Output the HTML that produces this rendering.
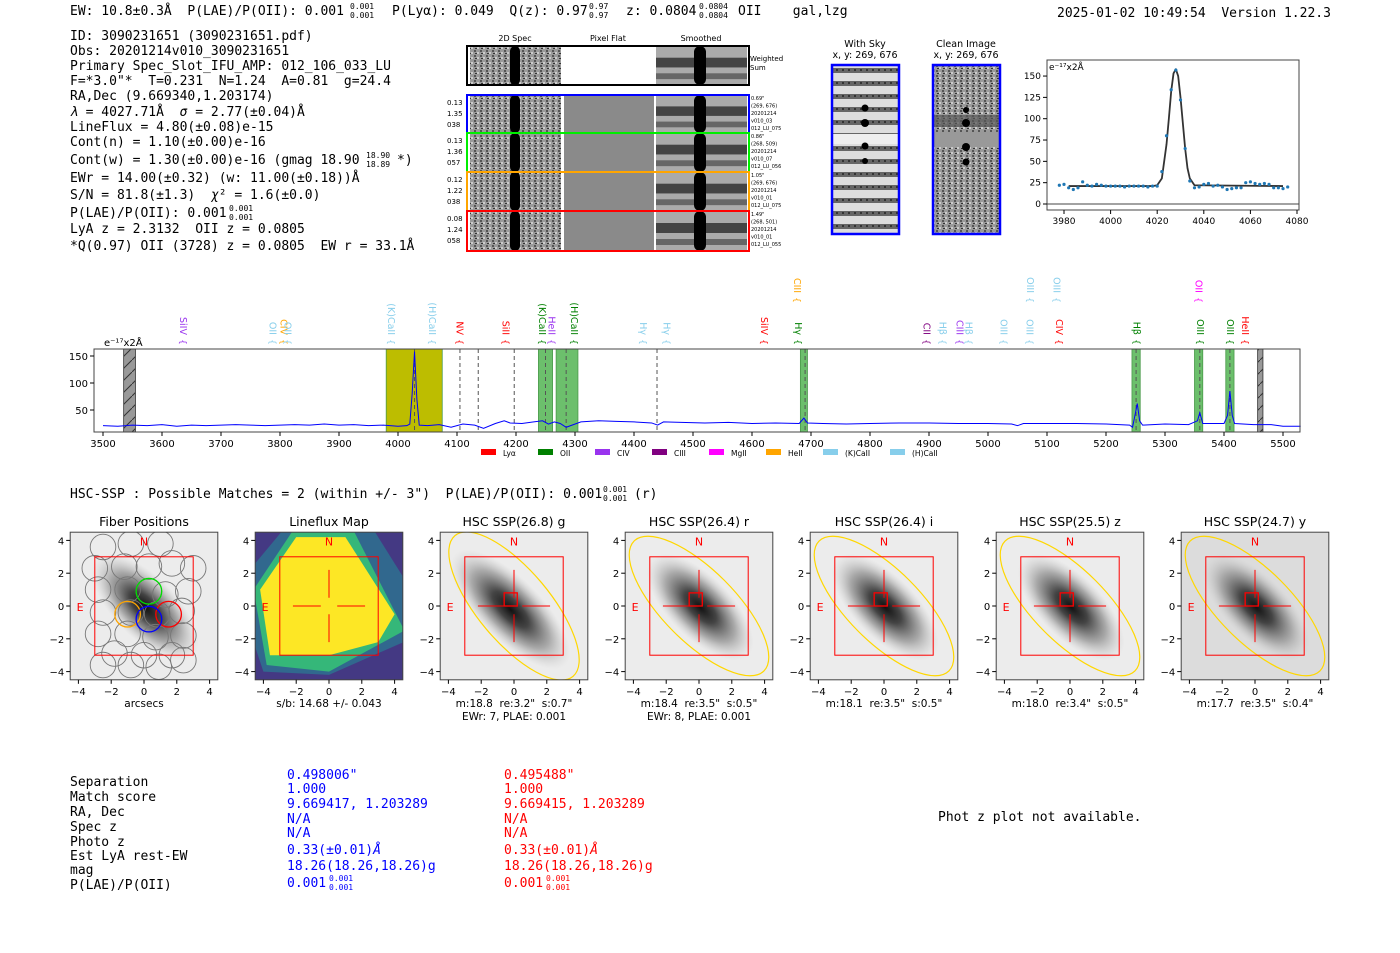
<!DOCTYPE html>
<html><head><meta charset="utf-8">
<style>
html,body{margin:0;padding:0;background:#fff;}
svg{display:block;}
text{white-space:pre;}
.m{font-family:"DejaVu Sans Mono","Liberation Mono",monospace;font-size:13px;fill:#000;}
.s{font-family:"DejaVu Sans","Liberation Sans",sans-serif;}
.t{font-family:"DejaVu Sans","Liberation Sans",sans-serif;fill:#000;}
.sm{font-size:8px !important;}
</style></head>
<body>
<svg id="page" width="1400" height="953" viewBox="0 0 1400 953" xmlns="http://www.w3.org/2000/svg" xml:space="preserve">
<defs>
 <pattern id="noise" width="6" height="5" patternUnits="userSpaceOnUse">
  <rect width="6" height="5" fill="#9a9a9a"/><rect x="0" y="0" width="2" height="2" fill="#555"/><rect x="3" y="2" width="2" height="2" fill="#ccc"/><rect x="1" y="3" width="2" height="1" fill="#333"/>
 </pattern>
 <pattern id="stripe" width="6" height="13" patternUnits="userSpaceOnUse">
  <rect width="6" height="13" fill="#ddd"/><rect y="3" width="6" height="5" fill="#666"/><rect x="2" y="4" width="2" height="2" fill="#333"/>
 </pattern>
 <pattern id="hatch" width="12" height="12" patternUnits="userSpaceOnUse">
  <rect width="12" height="12" fill="#999"/><line x1="0" y1="12" x2="12" y2="0" stroke="#333" stroke-width="1"/>
 </pattern>
 <radialGradient id="gal" cx="0.5" cy="0.5" r="0.5">
  <stop offset="0" stop-color="#111"/><stop offset="0.3" stop-color="#444"/><stop offset="0.65" stop-color="#999" stop-opacity="0.8"/><stop offset="1" stop-color="#ccc" stop-opacity="0"/>
 </radialGradient>
</defs>

<g>
<text class="m" x="70" y="15">EW: 10.8±0.3Å  P(LAE)/P(OII): 0.001</text>
<text class="m sm" x="350" y="9">0.001</text><text class="m sm" x="350" y="18">0.001</text>
<text class="m" x="392" y="15">P(Lyα): 0.049  Q(z): 0.97</text>
<text class="m sm" x="589" y="9">0.97</text><text class="m sm" x="589" y="18">0.97</text>
<text class="m" x="626" y="15">z: 0.0804</text>
<text class="m sm" x="699" y="9">0.0804</text><text class="m sm" x="699" y="18">0.0804</text>
<text class="m" x="738" y="15">OII    gal,lzg</text>
<text class="m" x="1057" y="17">2025-01-02 10:49:54  Version 1.22.3</text>
</g>

<g>
<text class="m" x="70" y="40">ID: 3090231651 (3090231651.pdf)</text>
<text class="m" x="70" y="55">Obs: 20201214v010_3090231651</text>
<text class="m" x="70" y="70">Primary Spec_Slot_IFU_AMP: 012_106_033_LU</text>
<text class="m" x="70" y="85">F=*3.0"*  T=0.231  N=1.24  A=0.81  g=24.4</text>
<text class="m" x="70" y="100">RA,Dec (9.669340,1.203174)</text>
<text class="m" x="70" y="116"><tspan font-style="italic">λ</tspan> = 4027.71Å  <tspan font-style="italic">σ</tspan> = 2.77(±0.04)Å</text>
<text class="m" x="70" y="131">LineFlux = 4.80(±0.08)e-15</text>
<text class="m" x="70" y="146">Cont(n) = 1.10(±0.00)e-16</text>
<text class="m" x="70" y="164">Cont(w) = 1.30(±0.00)e-16 (gmag 18.90</text>
<text class="m sm" x="366" y="158">18.90</text><text class="m sm" x="366" y="167">18.89</text>
<text class="m" x="397" y="164">*)</text>
<text class="m" x="70" y="182">EWr = 14.00(±0.32) (w: 11.00(±0.18))Å</text>
<text class="m" x="70" y="199">S/N = 81.8(±1.3)  <tspan font-style="italic">χ</tspan>² = 1.6(±0.0)</text>
<text class="m" x="70" y="217">P(LAE)/P(OII): 0.001</text>
<text class="m sm" x="229" y="211">0.001</text><text class="m sm" x="229" y="220">0.001</text>
<text class="m" x="70" y="233">LyA z = 2.3132  OII z = 0.0805</text>
<text class="m" x="70" y="250">*Q(0.97) OII (3728) z = 0.0805  EW r = 33.1Å</text>
</g>

<g id="spec2d">
<text class="s" font-size="8" x="515" y="41" text-anchor="middle">2D Spec</text>
<text class="s" font-size="8" x="608" y="41" text-anchor="middle">Pixel Flat</text>
<text class="s" font-size="8" x="701" y="41" text-anchor="middle">Smoothed</text>
</g>

<g>
<text class="s" font-size="9.5" x="865" y="47" text-anchor="middle">With Sky</text>
<text class="s" font-size="9.5" x="865" y="58" text-anchor="middle">x, y: 269, 676</text>
<rect x="832" y="65" width="67" height="169" fill="url(#stripe)"/>
<rect x="832" y="134" width="67" height="10" fill="#eee"/>
<circle cx="865" cy="108" r="3.5" fill="#000"/><circle cx="865" cy="123" r="4" fill="#000"/><circle cx="865" cy="146" r="3.5" fill="#000"/><circle cx="865" cy="161" r="3" fill="#000"/>
<rect x="832" y="65" width="67" height="169" fill="none" stroke="#0000ff" stroke-width="2.5"/>
</g>
<g>
<text class="s" font-size="9.5" x="966" y="47" text-anchor="middle">Clean Image</text>
<text class="s" font-size="9.5" x="966" y="58" text-anchor="middle">x, y: 269, 676</text>
<rect x="933" y="65" width="67" height="169" fill="url(#noise)"/>
<rect x="933" y="132" width="67" height="15" fill="#999"/>
<rect x="933" y="115" width="67" height="12" fill="#555" opacity="0.7"/>
<circle cx="966" cy="110" r="3" fill="#000"/><circle cx="966" cy="123" r="4" fill="#000"/><circle cx="966" cy="147" r="4" fill="#000"/><circle cx="966" cy="162" r="3.5" fill="#000"/>
<rect x="933" y="65" width="67" height="169" fill="none" stroke="#0000ff" stroke-width="2.5"/>
</g>

<g id="fitplot"></g>
<g id="spectrum"></g>

<text class="m" x="70" y="498">HSC-SSP : Possible Matches = 2 (within +/- 3")  P(LAE)/P(OII): 0.001</text>
<text class="m sm" x="603" y="492">0.001</text><text class="m sm" x="603" y="501">0.001</text>
<text class="m" x="634" y="498">(r)</text>

<g id="cutouts"></g>

<g>
<text class="m" x="70" y="786">Separation</text>
<text class="m" x="70" y="801">Match score</text>
<text class="m" x="70" y="816">RA, Dec</text>
<text class="m" x="70" y="831">Spec z</text>
<text class="m" x="70" y="846">Photo z</text>
<text class="m" x="70" y="860">Est LyA rest-EW</text>
<text class="m" x="70" y="874">mag</text>
<text class="m" x="70" y="889">P(LAE)/P(OII)</text>
<text class="m" style="fill:#0000ff" x="287" y="779">0.498006"</text>
<text class="m" style="fill:#0000ff" x="287" y="793">1.000</text>
<text class="m" style="fill:#0000ff" x="287" y="808">9.669417, 1.203289</text>
<text class="m" style="fill:#0000ff" x="287" y="823">N/A</text>
<text class="m" style="fill:#0000ff" x="287" y="837">N/A</text>
<text class="m" style="fill:#0000ff" x="287" y="854">0.33(±0.01)<tspan font-style="italic">Å</tspan></text>
<text class="m" style="fill:#0000ff" x="287" y="870">18.26(18.26,18.26)g</text>
<text class="m" style="fill:#0000ff" x="287" y="887">0.001</text>
<text class="m sm" style="fill:#0000ff" x="329" y="881">0.001</text><text class="m sm" style="fill:#0000ff" x="329" y="890">0.001</text>
<text class="m" style="fill:#ff0000" x="504" y="779">0.495488"</text>
<text class="m" style="fill:#ff0000" x="504" y="793">1.000</text>
<text class="m" style="fill:#ff0000" x="504" y="808">9.669415, 1.203289</text>
<text class="m" style="fill:#ff0000" x="504" y="823">N/A</text>
<text class="m" style="fill:#ff0000" x="504" y="837">N/A</text>
<text class="m" style="fill:#ff0000" x="504" y="854">0.33(±0.01)<tspan font-style="italic">Å</tspan></text>
<text class="m" style="fill:#ff0000" x="504" y="870">18.26(18.26,18.26)g</text>
<text class="m" style="fill:#ff0000" x="504" y="887">0.001</text>
<text class="m sm" style="fill:#ff0000" x="546" y="881">0.001</text><text class="m sm" style="fill:#ff0000" x="546" y="890">0.001</text>
<text class="m" x="938" y="821">Phot z plot not available.</text>
</g>
</svg>

<script>
const fitWave = [3978,3980,3982,3984,3986,3988,3990,3992,3994,3996,3998,4000,4002,4004,4006,4008,4010,4012,4014,4016,4018,4020,4022,4024,4026,4028,4030,4032,4034,4036,4038,4040,4042,4044,4046,4048,4050,4052,4054,4056,4058,4060,4062,4064,4066,4068,4070,4072,4074,4076];
const fitFlux = [22,23,19,17,19,26,22,21,23,22,21,21,21,21,20,21,21,21,21,20,21,21,38,80,134,157,122,65,27,19,20,23,24,21,22,20,17,18,19,19,25,26,24,23,24,23,19,19,18,20];
const modelWave = [3982,4018,4020,4022,4024,4025,4026,4027,4028,4029,4030,4031,4032,4033,4034,4036,4074];
const modelFlux = [21,21,22,30,70,100,132,153,158,150,125,95,65,42,30,22,21];
const fitXTicks = [3980,4000,4020,4040,4060,4080];
const fitYTicks = [0,25,50,75,100,125,150];

const specWave = [3500,3525,3550,3575,3600,3625,3650,3675,3700,3725,3750,3775,3800,3825,3850,3875,3900,3925,3950,3975,4000,4015,4020,4024,4028,4032,4036,4050,4070,4090,4110,4130,4145,4165,4180,4190,4210,4230,4245,4255,4265,4275,4285,4295,4310,4340,4370,4400,4430,4440,4450,4480,4520,4560,4600,4640,4680,4688,4694,4720,4760,4800,4850,4900,4950,5000,5040,5050,5060,5100,5150,5200,5240,5245,5250,5253,5257,5262,5300,5340,5355,5359,5364,5400,5406,5410,5414,5418,5450,5480,5500,5530];
const specFlux = [21,20,22,21,23,20,22,21,22,23,22,21,22,23,22,24,22,23,21,22,20,21,24,80,158,70,22,21,23,18,24,22,16,25,30,26,25,28,30,24,28,25,18,22,28,30,29,28,26,22,28,27,26,27,25,26,25,35,26,25,24,25,26,26,25,25,24,21,25,25,25,24,22,18,45,62,30,22,24,23,30,45,25,25,40,85,40,25,23,23,20,20];
const specXTicks = [3500,3600,3700,3800,3900,4000,4100,4200,4300,4400,4500,4600,4700,4800,4900,5000,5100,5200,5300,5400,5500];
const specYTicks = [50,100,150];
const lineWave = [3636,3787,3806,3813,3988,4058,4104,4182,4244,4260,4298,4415,4455,4620,4678,4676,4896,4923,4952,4967,5026,5070,5071,5120,5116,5252,5359,5357,5410,5436];
const lineName = ["SiIV","OII","CIV","OII","(K)CaII","(H)CaII","NV","SiII","(K)CaII","HeII","(H)CaII","Hγ","Hγ","SiIV","Hγ","CIII","CII","Hβ","CIII","Hβ","OIII","OIII","OIII","CIV","OIII","Hβ","OIII","OII","OIII","HeII"];
const lineColor = ["#9933ee","#87ceeb","#ffa500","#87ceeb","#87ceeb","#87ceeb","#ff0000","#ff0000","#008000","#9933ee","#008000","#87ceeb","#87ceeb","#ff0000","#008000","#ffa500","#800080","#87ceeb","#9933ee","#87ceeb","#87ceeb","#87ceeb","#87ceeb","#ff0000","#87ceeb","#008000","#008000","#ff00ff","#008000","#ff0000"];
const lineRow = [0,0,0,0,0,0,0,0,0,0,0,0,0,0,0,1,0,0,0,0,0,0,1,0,1,0,0,1,0,0];
const bandStart = [3535,3980,4238,4268,4682,5244,5350,5403,5457];
const bandEnd   = [3555,4075,4262,4305,4694,5258,5364,5417,5466];
const bandKind  = ["hatch","olive","green","green","green","green","green","green","hatch"];
const dashWave = [4028,4105,4136,4197,4250,4285,4439,4690,5251,5359,5410];
const legendName = ["Lyα","OII","CIV","CIII","MgII","HeII","(K)CaII","(H)CaII"];
const legendColor = ["#ff0000","#008000","#9933ee","#800080","#ff00ff","#ffa500","#87ceeb","#87ceeb"];

const panelTitle = ["Fiber Positions","Lineflux Map","HSC SSP(26.8) g","HSC SSP(26.4) r","HSC SSP(26.4) i","HSC SSP(25.5) z","HSC SSP(24.7) y"];
const panelLabel1 = ["arcsecs","s/b: 14.68 +/- 0.043","m:18.8  re:3.2\"  s:0.7\"","m:18.4  re:3.5\"  s:0.5\"","m:18.1  re:3.5\"  s:0.5\"","m:18.0  re:3.4\"  s:0.5\"","m:17.7  re:3.5\"  s:0.4\""];
const panelLabel2 = ["","","EWr: 7, PLAE: 0.001","EWr: 8, PLAE: 0.001","","",""];
const panelTicks = [-4,-2,0,2,4];

const NS = "http://www.w3.org/2000/svg";
function mk(parent, tag, attrs, txt){
  const e = document.createElementNS(NS, tag);
  for (const k in attrs) e.setAttribute(k, attrs[k]);
  if (txt !== undefined) e.textContent = txt;
  parent.appendChild(e); return e;
}

(function(){
  const g = document.getElementById('spec2d');
  const rows = [[46,85,"#000"],[95,133,"#0000ff"],[133,172,"#00ee00"],[172,211,"#ffa500"],[211,251,"#ff0000"]];
  const left = [["0.13","1.35","038"],["0.13","1.36","057"],["0.12","1.22","038"],["0.08","1.24","058"]];
  const right = [["0.69\"","(269, 676)","20201214","v010_03","012_LU_075"],["0.86\"","(268, 509)","20201214","v010_07","012_LU_056"],["1.05\"","(269, 676)","20201214","v010_01","012_LU_075"],["1.49\"","(268, 501)","20201214","v010_01","012_LU_055"]];
  rows.forEach((r,i)=>{
    const y0=r[0], h=r[1]-r[0];
    const row = mk(g,'g',{});
    
    
    mk(row,'rect',{x:470,y:y0,width:91,height:h,fill:'url(#noise)'});
    mk(row,'rect',{x:510,y:y0,width:10,height:h,fill:'#000',rx:5});
    mk(row,'rect',{x:564,y:y0,width:90,height:h,fill:i===0?'#fff':'#8a8a8a'});
    mk(row,'rect',{x:656,y:y0,width:91,height:h,fill:'#aaa'});
    mk(row,'rect',{x:656,y:y0+h*0.3,width:91,height:h*0.25,fill:'#444'});
    mk(row,'rect',{x:656,y:y0+h*0.7,width:91,height:h*0.15,fill:'#666'});
    mk(row,'rect',{x:694,y:y0,width:12,height:h,fill:'#000',rx:6});
    mk(row,'rect',{x:467,y:y0,width:282,height:h,fill:'none',stroke:r[2],'stroke-width':2});
    if(i===0){
      mk(row,'text',{x:750,y:61,'font-size':7,class:'s'},'Weighted');
      mk(row,'text',{x:750,y:70,'font-size':7,class:'s'},'Sum');
    } else {
      left[i-1].forEach((t,j)=>mk(row,'text',{x:447,y:y0+10+j*11,'font-size':7,class:'s'},t));
      right[i-1].forEach((t,j)=>mk(row,'text',{x:751,y:y0+5+j*7.5,'font-size':5,class:'s'},t));
    }
  });
})();

(function(){
  const g = document.getElementById('fitplot');
  const L=1047,R=1299,T=60,B=210;
  const xs = w => 1064 + (w-3980)*2.33;
  const ys = v => 204 - v*0.853;
  mk(g,'rect',{x:L,y:T,width:R-L,height:B-T,fill:'#fff',stroke:'#444'});
  mk(g,'line',{x1:L,x2:R,y1:ys(0),y2:ys(0),stroke:'#444','stroke-width':1});
  fitXTicks.forEach(t=>{mk(g,'line',{x1:xs(t),x2:xs(t),y1:B,y2:B+4,stroke:'#000'});
    mk(g,'text',{x:xs(t),y:B+14,'text-anchor':'middle',class:'t','font-size':9},t);});
  fitYTicks.forEach(t=>{mk(g,'line',{x1:L-4,x2:L,y1:ys(t),y2:ys(t),stroke:'#000'});
    mk(g,'text',{x:L-6,y:ys(t)+3,'text-anchor':'end',class:'t','font-size':9},t);});
  const model = mk(g,'polyline',{points:modelWave.map((w,i)=>xs(w)+','+ys(modelFlux[i])).join(' '),fill:'none',stroke:'#333','stroke-width':1.8,'stroke-linejoin':'round'});
  
  
  fitWave.forEach((w,i)=>{
    const c = mk(g,'circle',{cx:xs(w),cy:ys(fitFlux[i]),r:1.6,fill:'#1f77b4'});
    
    
  });
  mk(g,'text',{x:L+2,y:T+10,class:'t','font-size':9},'e⁻¹⁷x2Å');
})();

(function(){
  const g = document.getElementById('spectrum');
  const L=94,R=1300,T=349,B=432;
  const xs = w => 103 + (w-3500)*0.59;
  const ys = v => 437 - v*0.54;
  mk(g,'rect',{x:L,y:T,width:R-L,height:B-T,fill:'#fff'});
  bandStart.forEach((s,i)=>{
    const k=bandKind[i];
    const b = mk(g,'rect',{x:xs(s),y:T,width:xs(bandEnd[i])-xs(s),height:B-T,
      fill:k==='hatch'?'url(#hatch)':(k==='olive'?'#bdbd00':'#6cbf6c'),stroke:k==='hatch'?'#333':'#4a9a4a','stroke-width':0.8});
    
    
  });
  dashWave.forEach(w=>{mk(g,'line',{x1:xs(w),x2:xs(w),y1:T,y2:B,stroke:'#555','stroke-dasharray':'4,3','stroke-width':1});});
  const sp = mk(g,'polyline',{points:specWave.map((w,i)=>xs(w)+','+ys(specFlux[i])).join(' '),fill:'none',stroke:'#0000ff','stroke-width':1});
  
  
  mk(g,'rect',{x:L,y:T,width:R-L,height:B-T,fill:'none',stroke:'#444'});
  specXTicks.forEach(t=>{mk(g,'line',{x1:xs(t),x2:xs(t),y1:B,y2:B+4,stroke:'#000'});
    mk(g,'text',{x:xs(t),y:B+15,'text-anchor':'middle',class:'t','font-size':10},t);});
  specYTicks.forEach(t=>{mk(g,'line',{x1:L-4,x2:L,y1:ys(t),y2:ys(t),stroke:'#000'});
    mk(g,'text',{x:L-6,y:ys(t)+4,'text-anchor':'end',class:'t','font-size':10},t);});
  mk(g,'text',{x:104,y:346,class:'t','font-size':10},'e⁻¹⁷x2Å');
  lineWave.forEach((w,i)=>{
    const x = xs(w), yEnd = lineRow[i]? 305 : 347;
    const lab = mk(g,'text',{x:0,y:0,fill:lineColor[i],class:'s','font-size':9.5,transform:`translate(${x-3},${yEnd-12}) rotate(90)`,'text-anchor':'end'},lineName[i]);
    
    
    mk(g,'text',{x:0,y:0,fill:lineColor[i],class:'s','font-size':9,transform:`translate(${x-3},${yEnd-5}) rotate(90)`,'text-anchor':'middle'},'{');
  });
  legendName.forEach((n,i)=>{
    const x = 481 + i*57 + (i>6?10:0);
    const it = mk(g,'g',{});
    
    
    mk(it,'rect',{x:x,y:449,width:15,height:6,fill:legendColor[i]});
    mk(it,'text',{x:x+22,y:456,class:'t','font-size':7.5},n);
  });
})();

(function(){
  const g = document.getElementById('cutouts');
  const centers=[144,329,514,699,884,1070,1255], cy=606, sc=16.4;
  centers.forEach((cx,p)=>{
    const pg = mk(g,'g',{});
    
    
    const X=v=>cx+v*sc, Y=v=>cy-v*sc;
    const L=X(-4.5),T=Y(4.5),W=9*sc;
    const clipId='clip'+p;
    const cp = mk(pg,'clipPath',{id:clipId}); mk(cp,'rect',{x:L,y:T,width:W,height:W});
    const im = mk(pg,'g',{'clip-path':`url(#${clipId})`});
    if(p===1){
      mk(im,'rect',{x:L,y:T,width:W,height:W,fill:'#443983'});
      mk(im,'polygon',{points:[[-2.5,5],[2.5,5],[5,1],[5,-2],[0,-4.2],[-4,-4],[-5,-1],[-5,2]].map(q=>X(q[0])+','+Y(q[1])).join(' '),fill:'#31688e'});
      mk(im,'polygon',{points:[[-2.2,4.6],[1.5,4.6],[4.6,-1.5],[0,-4],[-3.8,-3.6],[-4.6,1]].map(q=>X(q[0])+','+Y(q[1])).join(' '),fill:'#35b779'});
      mk(im,'polygon',{points:[[-2,4.2],[1,4.2],[4,-0.5],[3,-2.2],[0,-3],[-3.6,-3],[-4.2,1]].map(q=>X(q[0])+','+Y(q[1])).join(' '),fill:'#fde725'});
    } else {
      mk(im,'rect',{x:L,y:T,width:W,height:W,fill:p===6?'#dcdcdc':'#ececec'});
      const rx = p===2?4.8:4.2, ry=p===2?1.9:1.9;
      mk(im,'ellipse',{cx:X(p===2?0:0.1),cy:Y(p===2?-0.3:0),rx:rx*sc,ry:ry*sc,fill:'url(#gal)',transform:`rotate(45 ${X(0)} ${Y(0)})`});
    }
    if(p===0){
      const fx=[-2.5,-0.8,1,-3,-1.2,0.3,1.7,3,-2.8,-1,0.3,1.3,2.7,-2.5,-0.8,0.8,2.3,-2.8,-1,0.7,2.4,-1.8,0,1.7,-2.5,-0.8,0.9,2.4];
      const fy=[3.6,3.8,3.8,2.3,2.4,2.4,2.6,2.3,1,1,0.9,0.7,0.9,-0.4,-0.4,-0.5,-0.3,-1.7,-1.7,-1.9,-1.8,-2.9,-3,-3,-3.6,-3.6,-3.7,-3.3];
      fx.forEach((v,i)=>mk(im,'circle',{cx:X(v),cy:Y(fy[i]),r:0.78*sc,fill:'none',stroke:'#777','stroke-width':0.9}));
      [[0.3,0.9,'#00dd00'],[-1,-0.5,'#ffa500'],[1.5,-0.5,'#ff0000'],[0.3,-0.8,'#0000ff']].forEach(c=>mk(im,'circle',{cx:X(c[0]),cy:Y(c[1]),r:0.78*sc,fill:'none',stroke:c[2],'stroke-width':1.3}));
    }
    if(p>=2){
      mk(im,'ellipse',{cx:X(0),cy:Y(0),rx:5.6*sc,ry:2.2*sc,fill:'none',stroke:'#ffd700','stroke-width':1.2,transform:`rotate(${p===2?50:45} ${X(0)} ${Y(0)})`});
      mk(pg,'rect',{x:X(-0.6),y:Y(0.8),width:0.8*sc,height:0.8*sc,fill:'none',stroke:'#ff0000','stroke-width':1.3});
    }
    mk(pg,'rect',{x:X(-3),y:Y(3),width:6*sc,height:6*sc,fill:'none',stroke:'#ff0000','stroke-width':1});
    if(p>=1){
      mk(pg,'line',{x1:X(-2.2),x2:X(-0.5),y1:Y(0),y2:Y(0),stroke:'#ff0000'});
      mk(pg,'line',{x1:X(0.5),x2:X(2.2),y1:Y(0),y2:Y(0),stroke:'#ff0000'});
      mk(pg,'line',{x1:X(0),x2:X(0),y1:Y(2.2),y2:Y(0.5),stroke:'#ff0000'});
      mk(pg,'line',{x1:X(0),x2:X(0),y1:Y(-0.5),y2:Y(-2.2),stroke:'#ff0000'});
    }
    mk(pg,'text',{x:X(0),y:Y(3.7),fill:'#ff0000','text-anchor':'middle',class:'s','font-size':11},'N');
    mk(pg,'text',{x:X(-3.9),y:Y(-0.3),fill:'#ff0000','text-anchor':'middle',class:'s','font-size':11},'E');
    mk(pg,'rect',{x:L,y:T,width:W,height:W,fill:'none',stroke:'#444'});
    panelTicks.forEach(t=>{
      mk(pg,'line',{x1:X(t),x2:X(t),y1:T+W,y2:T+W+4,stroke:'#000'});
      mk(pg,'text',{x:X(t),y:T+W+15,'text-anchor':'middle',class:'t','font-size':10},(t<0?'−':'')+Math.abs(t));
      mk(pg,'line',{x1:L-4,x2:L,y1:Y(t),y2:Y(t),stroke:'#000'});
      mk(pg,'text',{x:L-6,y:Y(t)+4,'text-anchor':'end',class:'t','font-size':10},(t<0?'−':'')+Math.abs(t));
    });
    mk(pg,'text',{x:cx,y:526,'text-anchor':'middle',class:'t','font-size':12.5},panelTitle[p]);
    mk(pg,'text',{x:cx,y:707,'text-anchor':'middle',class:'t','font-size':10.5},panelLabel1[p]);
    if(panelLabel2[p]) mk(pg,'text',{x:cx,y:720,'text-anchor':'middle',class:'t','font-size':10.5},panelLabel2[p]);
  });
})();
</script>
</body></html>
